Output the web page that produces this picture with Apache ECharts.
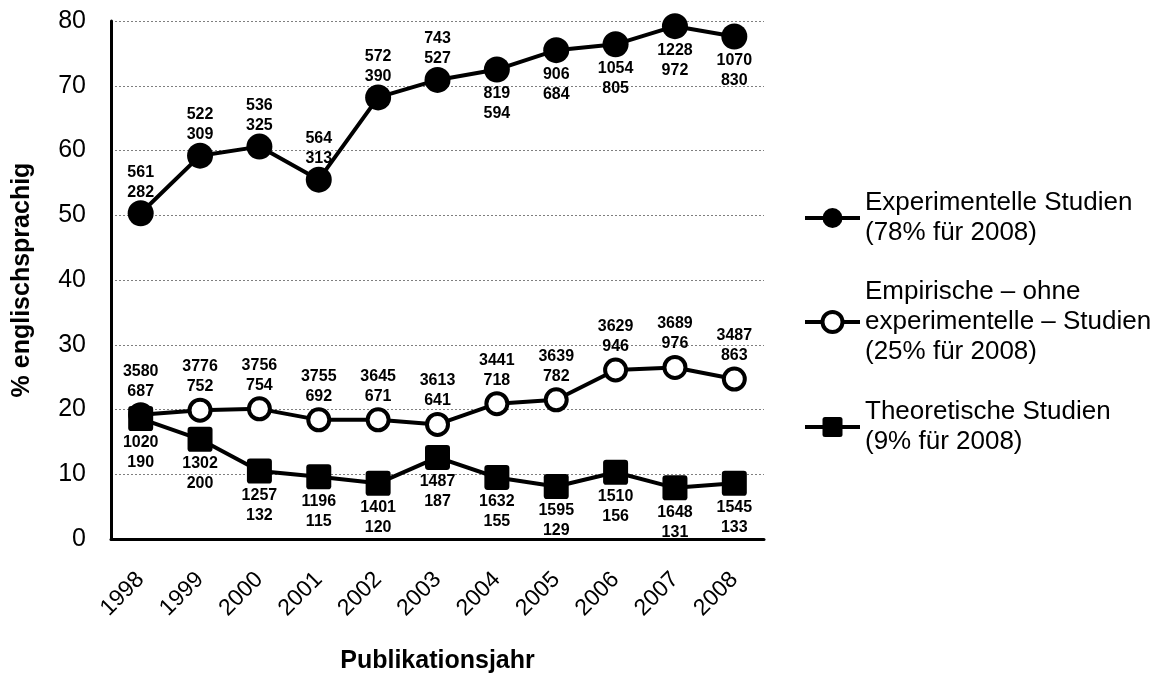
<!DOCTYPE html>
<html>
<head>
<meta charset="utf-8">
<script src="https://cdn.jsdelivr.net/npm/echarts@6/dist/echarts.min.js"></script>
<style>
  html, body { margin: 0; padding: 0; background: #fff; }
  #chart { width: 1163px; height: 679px; }
</style>
</head>
<body>
<div id="chart"></div>
<script>
const years = ["1998", "1999", "2000", "2001", "2002", "2003", "2004", "2005", "2006", "2007", "2008"]

// % englischsprachig
const expPct = [50.3, 59.2, 60.6, 55.5, 68.2, 70.9, 72.5, 75.5, 76.4, 79.2, 77.6]
const empPct = [19.2, 19.9, 20.1, 18.4, 18.4, 17.7, 20.9, 21.5, 26.1, 26.5, 24.7]
const theoPct = [18.6, 15.4, 10.5, 9.6, 8.6, 12.6, 9.5, 8.1, 10.3, 7.9, 8.6]

// point labels: total / english-language count
const expTotal = [561, 522, 536, 564, 572, 743, 819, 906, 1054, 1228, 1070]
const expEnglish = [282, 309, 325, 313, 390, 527, 594, 684, 805, 972, 830]
const empTotal = [3580, 3776, 3756, 3755, 3645, 3613, 3441, 3639, 3629, 3689, 3487]
const empEnglish = [687, 752, 754, 692, 671, 641, 718, 782, 946, 976, 863]
const theoTotal = [1020, 1302, 1257, 1196, 1401, 1487, 1632, 1595, 1510, 1648, 1545]
const theoEnglish = [190, 200, 132, 115, 120, 187, 155, 129, 156, 131, 133]

const seriesNames = ["Experimentelle Studien", "Empirische Studien", "Theoretische Studien"]
const legendTexts = [
  "Experimentelle Studien\n(78% für 2008)",
  "Empirische – ohne\nexperimentelle – Studien\n(25% für 2008)",
  "Theoretische Studien\n(9% für 2008)"
]

const FONT = "'Liberation Sans', Arial, sans-serif"
const LH = 30
const legendIconY = [218, 322, 427]

const chart = echarts.init(document.getElementById("chart"))

const labelText = (tot, eng) => p => tot[p.dataIndex] + "\n" + eng[p.dataIndex]
const pointLabel = {
  show: true,
  color: "#000",
  fontFamily: FONT,
  fontWeight: "bold",
  fontSize: 16,
  lineHeight: 20
}
const roundSquare = "path://M3,0 L21,0 Q24,0 24,3 L24,21 Q24,24 21,24 L3,24 Q0,24 0,21 L0,3 Q0,0 3,0 Z"

const option = {
  animation: false,
  backgroundColor: "#fff",
  grid: {left: 111, right: 399, top: 21, bottom: 140},
  legend: legendTexts.map((t, i) => {
    const n = t.split("\n").length
    return {
      data: [seriesNames[i]],
      left: 803,
      top: legendIconY[i] - (2 * n - 1) * LH / 2,
      padding: 0,
      itemWidth: 55,
      itemHeight: 25,
      selectedMode: false,
      lineStyle: {color: "#000", width: 4},
      itemStyle: i === 1 ? {color: "#fff", borderColor: "#000", borderWidth: 4} : {color: "#000"},
      formatter: () => t,
      textStyle: {
        color: "#000",
        fontFamily: FONT,
        fontSize: 26,
        lineHeight: LH,
        padding: [(n - 1) * LH, 0, 0, 0]
      }
    }
  }),
  xAxis: {
    type: "category",
    data: years,
    boundaryGap: true,
    name: "Publikationsjahr",
    nameLocation: "middle",
    nameGap: 110,
    nameTextStyle: {color: "#000", fontFamily: FONT, fontWeight: "bold", fontSize: 25},
    axisLine: {show: true, lineStyle: {color: "#000", width: 3}},
    axisTick: {show: false},
    axisLabel: {rotate: 45, margin: 37, color: "#000", fontFamily: FONT, fontSize: 23}
  },
  yAxis: {
    type: "value",
    min: 0,
    max: 80,
    interval: 10,
    name: "% englischsprachig",
    nameLocation: "middle",
    nameGap: 76,
    nameTextStyle: {color: "#000", fontFamily: FONT, fontWeight: "bold", fontSize: 25},
    axisLine: {show: true, lineStyle: {color: "#000", width: 3}},
    axisTick: {show: false},
    axisLabel: {margin: 25, color: "#000", fontFamily: FONT, fontSize: 25},
    splitLine: {show: true, lineStyle: {color: "#7f7f7f", width: 1, type: [2, 2]}}
  },
  series: [
    {
      name: seriesNames[0],
      type: "line",
      symbol: "circle",
      symbolSize: 26,
      showAllSymbol: true,
      lineStyle: {color: "#000", width: 4},
      itemStyle: {color: "#000"},
      label: {...pointLabel, formatter: labelText(expTotal, expEnglish)},
      data: expPct.map((v, i) => ({
        value: v,
        label: i < 6 ? {position: "top", distance: -2} : {position: "bottom", distance: 1}
      }))
    },
    {
      name: seriesNames[1],
      type: "line",
      symbol: "circle",
      symbolSize: 21,
      showAllSymbol: true,
      lineStyle: {color: "#000", width: 4},
      itemStyle: {color: "#fff", borderColor: "#000", borderWidth: 4},
      label: {...pointLabel, position: "top", distance: 1, formatter: labelText(empTotal, empEnglish)},
      data: empPct
    },
    {
      name: seriesNames[2],
      type: "line",
      symbol: roundSquare,
      symbolSize: 25,
      showAllSymbol: true,
      lineStyle: {color: "#000", width: 4},
      itemStyle: {color: "#000"},
      label: {...pointLabel, position: "bottom", distance: 2, formatter: labelText(theoTotal, theoEnglish)},
      data: theoPct
    }
  ]
}

chart.setOption(option)
</script>
</body>
</html>
